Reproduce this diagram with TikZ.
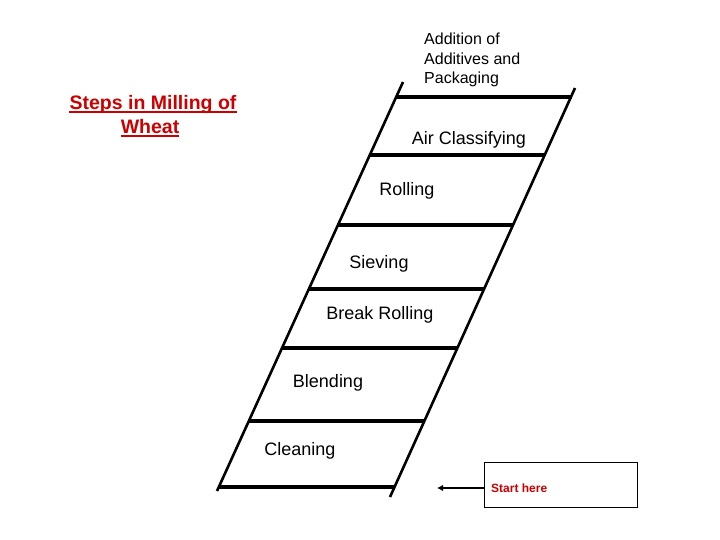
\documentclass[tikz,border=0pt]{standalone}
\usepackage{fontspec}
\setmainfont{Liberation Sans}
\usetikzlibrary{arrows.meta,calc}
\definecolor{titlered}{RGB}{204,0,0}
\begin{document}
\begin{tikzpicture}[x=1pt,y=-1pt,
  rail/.style={line width=2.6pt},
  rung/.style={line width=3.2pt},
  steplabel/.style={inner sep=0pt,font=\fontsize{18}{21}\selectfont},
  titletext/.style={anchor=base,inner sep=0pt,text=titlered,font=\bfseries\fontsize{19.5}{24}\selectfont},
  uline/.style={draw=titlered,line width=1.8pt},
  arr/.style={line width=2.2pt,-{Latex[length=6pt,width=6.5pt]}}]
\useasboundingbox (0,0) rectangle (720,540);
% rails
\draw[rail] (217,491) -- (403,82);
\draw[rail] (390,497) -- (575,88);
% rungs
\draw[rung] (396.2,97) -- (571.5,97);
\draw[rung] (369.8,155) -- (544.7,155);
\draw[rung] (338,225) -- (513,225);
\draw[rung] (308.9,289) -- (484.1,289);
\draw[rung] (282,348) -- (457.4,348);
\draw[rung] (248.8,421) -- (424.4,421);
\draw[rung] (218.8,487) -- (394.5,487);
% labels
\node[anchor=north west,align=left,inner sep=0pt,font=\fontsize{16}{19.5}\selectfont] (add) at (424,33) {Addition of\\Additives and\\Packaging};
\node[steplabel] (air) at (469,140) {Air Classifying};
\node[steplabel] (roll) at (407,191) {Rolling};
\node[steplabel] (siev) at (379,264) {Sieving};
\node[steplabel] (brk) at (380,315) {Break Rolling};
\node[steplabel] (blend) at (328,383) {Blending};
\node[steplabel] (clean) at (300,451) {Cleaning};
% title
\node[titletext] (title1) at (153,110) {Steps in Milling of};
\node[titletext] (title2) at (150,134) {Wheat};
\draw[uline] ($(title1.base west)+(0,2)$) -- ($(title1.base east)+(0,2)$);
\draw[uline] ($(title2.base west)+(0,2)$) -- ($(title2.base east)+(0,2)$);
% start box
\node[draw,line width=1pt,minimum width=153pt,minimum height=45pt,inner sep=0pt] (box) at (560.5,484.5) {};
\node[anchor=west,inner sep=0pt,text=titlered,font=\bfseries\fontsize{12}{14}\selectfont] (start) at (491,488) {Start here};
\coordinate (tip) at (437,488);
\draw[arr] (box.west |- start) -- (tip);
\end{tikzpicture}
\end{document}
